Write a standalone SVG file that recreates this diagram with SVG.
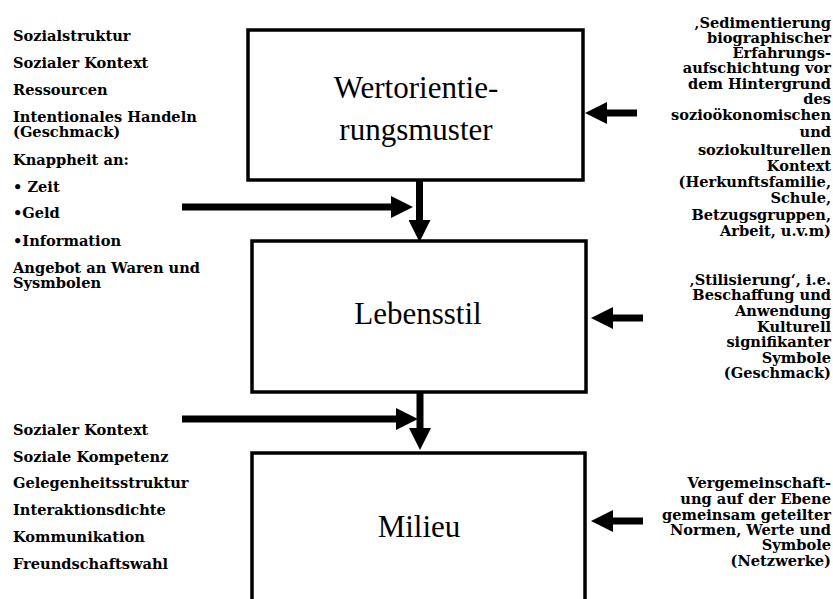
<svg xmlns="http://www.w3.org/2000/svg" width="833" height="599" viewBox="0 0 833 599">
<style>
.box{fill:#fff;stroke:#000;stroke-width:3.5}
.lbl{font-family:"Liberation Serif","Times New Roman",serif;font-size:31px;fill:#000;text-anchor:middle}
.side{font-family:"DejaVu Serif",serif;font-weight:bold;font-size:14.6px;fill:#000}
.rt{text-anchor:end}
.conn line{stroke:#000;stroke-width:7}
</style>
<defs>
<marker id="ah" viewBox="0 0 22 22" refX="1" refY="11" markerWidth="22" markerHeight="22" markerUnits="userSpaceOnUse" orient="auto">
<path d="M0,0 L22,11 L0,22 Z" fill="#000"/>
</marker>
</defs>
<rect width="833" height="599" fill="#fff"/>

<g id="node-wert">
<rect class="box" x="248" y="30" width="335" height="150"/>
<text class="lbl" x="416" y="98">Wertorientie-</text>
<text class="lbl" x="416" y="140">rungsmuster</text>
</g>
<g id="node-lebensstil">
<rect class="box" x="252" y="241" width="334" height="151"/>
<text class="lbl" x="418" y="324">Lebensstil</text>
</g>
<g id="node-milieu">
<rect class="box" x="252" y="453" width="333" height="160"/>
<text class="lbl" x="419" y="537">Milieu</text>
</g>

<g id="connectors" class="conn">
<line x1="182" y1="207" x2="392" y2="207" marker-end="url(#ah)"/>
<line x1="419.5" y1="180" x2="419.5" y2="221" marker-end="url(#ah)"/>
<line x1="182" y1="419" x2="397" y2="419" marker-end="url(#ah)"/>
<line x1="420" y1="392" x2="420" y2="429" marker-end="url(#ah)"/>
<line x1="637" y1="113" x2="606" y2="113" marker-end="url(#ah)"/>
<line x1="643" y1="318" x2="612" y2="318" marker-end="url(#ah)"/>
<line x1="643" y1="521" x2="612" y2="521" marker-end="url(#ah)"/>
</g>

<g id="text-left-top" class="side">
<text x="13" y="41">Sozialstruktur</text>
<text x="13" y="68">Sozialer Kontext</text>
<text x="13" y="95">Ressourcen</text>
<text x="13" y="122">Intentionales Handeln</text>
<text x="13" y="137">(Geschmack)</text>
<text x="13" y="165">Knappheit an:</text>
<text x="13" y="192">• Zeit</text>
<text x="13" y="218">•Geld</text>
<text x="13" y="246">•Information</text>
<text x="13" y="273">Angebot an Waren und</text>
<text x="13" y="288">Sysmbolen</text>
</g>

<g id="text-left-bottom" class="side">
<text x="13" y="435">Sozialer Kontext</text>
<text x="13" y="462">Soziale Kompetenz</text>
<text x="13" y="488">Gelegenheitsstruktur</text>
<text x="13" y="515">Interaktionsdichte</text>
<text x="13" y="542">Kommunikation</text>
<text x="13" y="569">Freundschaftswahl</text>
</g>

<g id="text-right-1" class="side rt">
<text x="831" y="28">‚Sedimentierung</text>
<text x="831" y="43">biographischer</text>
<text x="831" y="58">Erfahrungs-</text>
<text x="831" y="73">aufschichtung vor</text>
<text x="831" y="89">dem Hintergrund</text>
<text x="831" y="104">des</text>
<text x="831" y="120">sozioökonomischen</text>
<text x="831" y="137">und</text>
<text x="831" y="155">soziokulturellen</text>
<text x="831" y="171">Kontext</text>
<text x="831" y="187">(Herkunftsfamilie,</text>
<text x="831" y="203">Schule,</text>
<text x="831" y="220">Betzugsgruppen,</text>
<text x="831" y="236">Arbeit, u.v.m)</text>
</g>

<g id="text-right-2" class="side rt">
<text x="831" y="285">‚Stilisierung‘, i.e.</text>
<text x="831" y="300">Beschaffung und</text>
<text x="831" y="316">Anwendung</text>
<text x="831" y="332">Kulturell</text>
<text x="831" y="347">signifikanter</text>
<text x="831" y="363">Symbole</text>
<text x="831" y="378">(Geschmack)</text>
</g>

<g id="text-right-3" class="side rt">
<text x="831" y="488">Vergemeinschaft-</text>
<text x="831" y="504">ung auf der Ebene</text>
<text x="831" y="520">gemeinsam geteilter</text>
<text x="831" y="535">Normen, Werte und</text>
<text x="831" y="550">Symbole</text>
<text x="831" y="566">(Netzwerke)</text>
</g>
</svg>
